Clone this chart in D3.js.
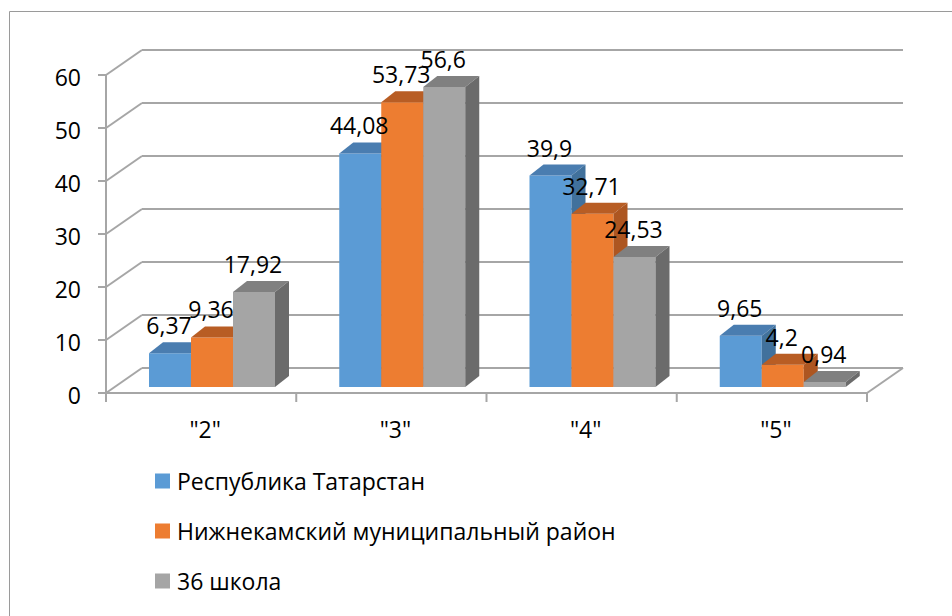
<!DOCTYPE html>
<html>
<head>
<meta charset="utf-8">
<script src="https://cdn.jsdelivr.net/npm/d3@7.9.0/dist/d3.min.js"></script>
<style>
  html, body { margin: 0; padding: 0; background: #fff; }
  svg text { font-family: "Open Sans", sans-serif; fill: #000; }
</style>
</head>
<body>
<svg id="chart" width="952" height="616"></svg>
<script>
// data
const categories = ['"2"', '"3"', '"4"', '"5"'];
const seriesNames = ['Республика Татарстан', 'Нижнекамский муниципальный район', '36 школа'];
const tatarstan = [6.37, 44.08, 39.9, 9.65];
const nizhnekamsk = [9.36, 53.73, 32.71, 4.2];
const school36 = [17.92, 56.6, 24.53, 0.94];
const labels = [
  ['6,37', '44,08', '39,9', '9,65'],
  ['9,36', '53,73', '32,71', '4,2'],
  ['17,92', '56,6', '24,53', '0,94']
];
const yTicks = [0, 10, 20, 30, 40, 50, 60];

const seriesValues = [tatarstan, nizhnekamsk, school36];
const colors = [
  { front: '#5b9bd5', top: '#4a7db0', side: '#41719c' },
  { front: '#ed7d31', top: '#b85d24', side: '#ad5621' },
  { front: '#a5a5a5', top: '#808080', side: '#6b6b6b' }
];
const fontSize = 23;

const svg = d3.select('#chart');

// outer frame
svg.append('path')
  .attr('d', 'M9.5,616 L9.5,11.5 L952,11.5')
  .attr('fill', 'none')
  .attr('stroke', '#9a9a9a')
  .attr('stroke-width', 1);

// 3d geometry
const floorFront = 393;   // front edge of floor
const wallDx = 36, wallDy = -25; // depth of the plot box
const barBase = 387;      // bars sit a bit behind the front edge
const barDx = 14, barDy = -11;

const yScale = d3.scaleLinear().domain([0, 60]).range([0, 318]);

const xScale = d3.scaleBand().domain(categories).range([106, 867]).padding(0);
const xInner = d3.scaleBand().domain(d3.range(3)).range([43, 169]).padding(0);

const grid = svg.append('g').attr('stroke', '#a6a6a6').attr('stroke-width', 2).attr('fill', 'none');

const left = xScale.range()[0], right = xScale.range()[1];

// back wall gridlines + side wall diagonals
yTicks.forEach(v => {
  const yf = floorFront - yScale(v);
  const yb = yf + wallDy;
  grid.append('line')
    .attr('x1', left + wallDx).attr('y1', yb)
    .attr('x2', right + wallDx).attr('y2', yb);
  grid.append('line')
    .attr('x1', left).attr('y1', yf)
    .attr('x2', left + wallDx).attr('y2', yb);
});

// floor front edge and right edge
grid.append('line')
  .attr('x1', left).attr('y1', floorFront)
  .attr('x2', right).attr('y2', floorFront);
grid.append('line')
  .attr('x1', right).attr('y1', floorFront)
  .attr('x2', right + wallDx).attr('y2', floorFront + wallDy);

// vertical axis
grid.append('line')
  .attr('x1', left).attr('y1', floorFront)
  .attr('x2', left).attr('y2', floorFront - yScale(60));

// y ticks
yTicks.forEach(v => {
  const y = floorFront - yScale(v);
  grid.append('line').attr('x1', left - 8).attr('y1', y).attr('x2', left).attr('y2', y);
});

// x ticks at category boundaries
const bounds = categories.map(c => xScale(c)).concat([right]);
bounds.forEach(x => {
  grid.append('line').attr('x1', x).attr('y1', floorFront).attr('x2', x).attr('y2', floorFront + 9);
});

// y tick labels
svg.append('g').selectAll('text')
  .data(yTicks)
  .join('text')
  .attr('x', 81)
  .attr('y', d => floorFront - yScale(d) + 2)
  .attr('text-anchor', 'end')
  .attr('dominant-baseline', 'central')
  .attr('font-size', fontSize)
  .text(d => d);

// category labels
svg.append('g').selectAll('text')
  .data(categories)
  .join('text')
  .attr('x', d => xScale(d) + xScale.bandwidth() / 2 + 4)
  .attr('y', 438)
  .attr('text-anchor', 'middle')
  .attr('font-size', fontSize)
  .text(d => d);

// bars
const bw = xInner.bandwidth();
const bars = svg.append('g');
categories.forEach((cat, ci) => {
  seriesValues.forEach((vals, si) => {
    const x0 = xScale(cat) + xInner(si);
    const x1 = x0 + bw;
    const yTop = barBase - yScale(vals[ci]);
    const c = colors[si];
    const g = bars.append('g');
    g.append('path')
      .attr('d', `M${x0},${barBase}L${x1},${barBase}L${x1},${yTop}L${x0},${yTop}Z`)
      .attr('fill', c.front);
    g.append('path')
      .attr('d', `M${x0},${yTop}L${x1},${yTop}L${x1 + barDx},${yTop + barDy}L${x0 + barDx},${yTop + barDy}Z`)
      .attr('fill', c.top);
    g.append('path')
      .attr('d', `M${x1},${barBase}L${x1 + barDx},${barBase + barDy}L${x1 + barDx},${yTop + barDy}L${x1},${yTop}Z`)
      .attr('fill', c.side);
  });
});

// data labels
const lbl = svg.append('g');
categories.forEach((cat, ci) => {
  seriesValues.forEach((vals, si) => {
    const xc = xScale(cat) + xInner(si) + bw / 2;
    const yTop = barBase - yScale(vals[ci]);
    lbl.append('text')
      .attr('x', xc - 1)
      .attr('y', yTop - 19)
      .attr('text-anchor', 'middle')
      .attr('font-size', fontSize)
      .text(labels[si][ci]);
  });
});

// legend
const legend = svg.append('g');
seriesNames.forEach((name, i) => {
  const cy = 481 + i * 50;
  legend.append('rect')
    .attr('x', 155).attr('y', cy - 7.5)
    .attr('width', 15).attr('height', 15)
    .attr('fill', colors[i].front);
  legend.append('text')
    .attr('x', 177).attr('y', cy)
    .attr('dominant-baseline', 'central')
    .attr('font-size', fontSize)
    .text(name);
});
</script>
</body>
</html>
